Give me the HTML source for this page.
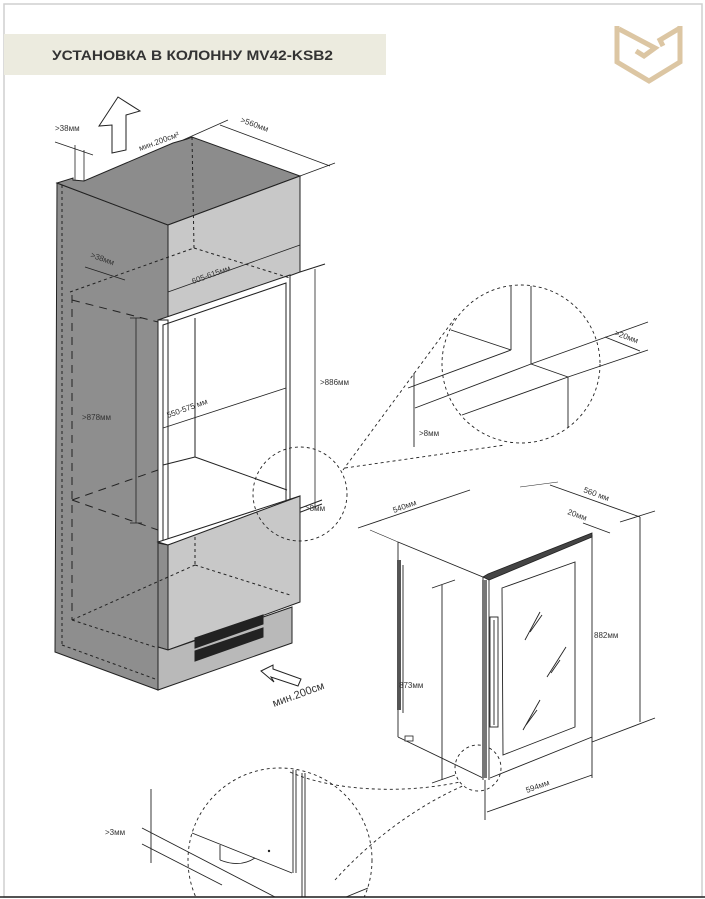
<!DOCTYPE html>
<html><head><meta charset="utf-8"><style>
html,body{margin:0;padding:0;background:#fff;width:705px;height:899px;overflow:hidden;}
svg{display:block;overflow:hidden;}
text{font-family:"Liberation Sans",sans-serif;fill:#333;}
</style></head><body>
<svg width="705" height="899" viewBox="0 0 705 899" xmlns="http://www.w3.org/2000/svg">
<defs><clipPath id="pg"><rect x="0" y="0" width="705" height="897"/></clipPath></defs>
<rect x="0" y="0" width="705" height="899" fill="#fff"/>
<rect x="4" y="4" width="698" height="893" fill="none" stroke="#cfcfcf" stroke-width="1.5"/>
<line x1="0" y1="897" x2="705" y2="897" stroke="#222" stroke-width="1.5"/>
<rect x="4" y="34" width="382" height="41" fill="#ecebdf"/>
<text x="52" y="60" font-size="14" font-weight="bold" fill="#222" textLength="281" lengthAdjust="spacingAndGlyphs">УСТАНОВКА В КОЛОННУ MV42-KSB2</text>
<g fill="none" stroke="#dcc6a3" stroke-width="5" stroke-linejoin="miter">
<polyline points="617,26 617,62 649,81 680,62 680,26"/>
<polyline points="619,29 655,48 644,56 636,51"/>
<polyline points="680,28 660,40 663,46"/>
</g>
<g clip-path="url(#pg)">
<g stroke="#222" stroke-width="1">
<polygon points="57,183 168,225 168,320 158,320 158,690 55,652" fill="#8e8e8e"/>
<polygon points="57,183 73,178 73,180 84,181 173,143 187,139 192,137 300,176 168,225" fill="#8c8c8c"/>
<polygon points="168,225 300,176 300,272 168,320" fill="#c8c8c8"/>
<polygon points="158,320 290,275 290,515 158,542" fill="#fff"/>
<polyline points="158,320 168,320 168,541" fill="none"/>
<polyline points="163,543 163,325 286,283 286,500" fill="none"/>
<line x1="290" y1="277" x2="290" y2="513"/>
<line x1="300" y1="272" x2="325" y2="264"/>
<line x1="195" y1="318" x2="195" y2="457"/>
<line x1="195" y1="457" x2="287" y2="490"/>
<line x1="163" y1="465" x2="195" y2="457"/>
<line x1="290" y1="512" x2="322" y2="500"/>
<line x1="290" y1="516" x2="322" y2="504"/>
<polygon points="158,542 300,496 300,500 168,545" fill="#fff"/>
<polygon points="168,545 300,496 300,602 168,650" fill="#c8c8c8"/>
<polygon points="158,543 168,545 168,650 158,647" fill="#8e8e8e"/>
<polygon points="158,647 168,650 292,607 292,643 158,690" fill="#b9b9b9"/>
<polygon points="195,638 263,615 263,624 195,648" fill="#222"/>
<polygon points="195,651 263,628 263,637 195,661" fill="#222"/>
</g>
<g stroke="#222" stroke-width="1" fill="none" stroke-dasharray="3,3">
<line x1="62" y1="185" x2="62" y2="645"/>
<line x1="62" y1="645" x2="158" y2="680"/>
<line x1="192" y1="137" x2="194" y2="248"/>
<line x1="70" y1="292" x2="194" y2="248"/>
<line x1="194" y1="248" x2="290" y2="278"/>
<line x1="72" y1="620" x2="195" y2="565"/>
<line x1="72" y1="620" x2="158" y2="648"/>
<line x1="195" y1="565" x2="290" y2="595"/>
<line x1="195" y1="537" x2="195" y2="565"/>
</g>
<g stroke="#222" stroke-width="1" fill="none" stroke-dasharray="8,6">
<line x1="72" y1="295" x2="72" y2="620"/>
<line x1="72" y1="300" x2="158" y2="322"/>
<line x1="72" y1="500" x2="158" y2="470"/>
<line x1="72" y1="500" x2="158" y2="530"/>
</g>
<g stroke="#222" stroke-width="0.8" fill="none">
<line x1="168" y1="292" x2="300" y2="245"/>
<line x1="220" y1="125" x2="330" y2="166"/>
<line x1="183" y1="140" x2="228" y2="120"/>
<line x1="300" y1="176" x2="335" y2="163"/>
<line x1="75" y1="145" x2="75" y2="180"/>
<line x1="84" y1="150" x2="84" y2="181"/>
<line x1="55" y1="142" x2="93" y2="155"/>
<line x1="85" y1="267" x2="125" y2="280"/>
<line x1="315" y1="269" x2="315" y2="510"/>
<line x1="136" y1="318" x2="136" y2="523"/>
<line x1="130" y1="318" x2="142" y2="318"/>
<line x1="130" y1="523" x2="142" y2="523"/>
<line x1="163" y1="428" x2="286" y2="388"/>
<polygon points="118,97 140,111 126,115 126,150 112,153 112,125 99,126" stroke-width="1"/>
<polygon points="261,671 273,665 273,669 301,679 298,686 271,677 274,682" stroke-width="1"/>
</g>
<g font-size="8">
<text x="55" y="131">&gt;38мм</text>
<text transform="translate(140,151) rotate(-20)">мин.200см²</text>
<text transform="translate(240,122) rotate(20)">&gt;560мм</text>
<text transform="translate(90,257) rotate(20)">&gt;38мм</text>
<text transform="translate(193,284) rotate(-20)">605-615мм</text>
<text transform="translate(168,418) rotate(-20)">550-575 мм</text>
<text x="320" y="385">&gt;886мм</text>
<text x="82" y="420">&gt;878мм</text>
<text x="305" y="511">&gt;8мм</text>
<text transform="translate(274,707) rotate(-20)" font-size="11">мин.200см</text>
</g>
<g stroke="#222" stroke-width="0.9" fill="none" stroke-dasharray="3,3">
<circle cx="300" cy="494" r="47"/>
<circle cx="521" cy="364" r="79"/>
<line x1="343" y1="470" x2="455" y2="318"/>
<line x1="345" y1="468" x2="505" y2="445"/>
<circle cx="478" cy="768" r="23"/>
<circle cx="280" cy="860" r="92"/>
<path d="M290,772 C330,790 400,795 460,782"/>
<path d="M335,880 C380,830 430,800 465,785"/>
</g>
<g stroke="#222" stroke-width="0.9" fill="none">
<line x1="511" y1="286" x2="511" y2="350"/>
<line x1="451" y1="330" x2="511" y2="350"/>
<line x1="531" y1="286" x2="531" y2="364"/>
<line x1="408" y1="388" x2="511" y2="350"/>
<line x1="415" y1="408" x2="531" y2="364"/>
<line x1="531" y1="364" x2="568" y2="377"/>
<line x1="462" y1="415" x2="568" y2="377"/>
<line x1="568" y1="377" x2="568" y2="428"/>
<line x1="531" y1="364" x2="648" y2="322"/>
<line x1="568" y1="377" x2="648" y2="350"/>
<line x1="605" y1="337" x2="640" y2="351"/>
<line x1="414" y1="373" x2="414" y2="447"/>
</g>
<g font-size="8">
<text transform="translate(614,335) rotate(20)">&gt;20мм</text>
<text x="419" y="436">&gt;8мм</text>
</g>
<g stroke="#222" stroke-width="0.9" fill="none">
<line x1="151" y1="789" x2="151" y2="863"/>
<line x1="142" y1="828" x2="275" y2="897"/>
<line x1="142" y1="844" x2="222" y2="885"/>
<line x1="192" y1="833" x2="292" y2="873"/>
<line x1="220" y1="845" x2="220" y2="860"/>
<path d="M220,860 Q240,868 255,858"/>
<line x1="293" y1="770" x2="293" y2="873"/>
<line x1="296" y1="770" x2="296" y2="873"/>
<line x1="302" y1="773" x2="302" y2="897"/>
<line x1="305" y1="773" x2="305" y2="897"/>
<line x1="346" y1="897" x2="368" y2="888"/>
</g>
<circle cx="269" cy="851" r="1.2" fill="#222"/>
<text x="105" y="835" font-size="8">&gt;3мм</text>
</g>
<!-- appliance -->
<g stroke="#222" stroke-width="0.9" fill="none">
<polyline points="398,542 483,577 592,535"/>
<line x1="398" y1="542" x2="398" y2="737"/>
<line x1="398" y1="737" x2="483" y2="778"/>
<line x1="592" y1="535" x2="592" y2="770"/>
<line x1="490" y1="778" x2="592" y2="737"/>
<line x1="483" y1="577" x2="483" y2="780"/>
<line x1="489" y1="575" x2="489" y2="780"/>
<polygon points="502,588 575,562 575,727 503,755"/>
<rect x="490" y="617" width="8" height="110"/>
<line x1="494" y1="620" x2="494" y2="725"/>
<line x1="403" y1="565" x2="403" y2="713"/>
<line x1="525" y1="640" x2="540" y2="612"/>
<line x1="530" y1="632" x2="542" y2="615"/>
<line x1="547" y1="677" x2="566" y2="647"/>
<line x1="551" y1="673" x2="560" y2="660"/>
<line x1="523" y1="730" x2="540" y2="700"/>
<line x1="526" y1="725" x2="537" y2="710"/>
<line x1="358" y1="528" x2="470" y2="490"/>
<line x1="370" y1="530" x2="398" y2="542" stroke-width="0.6"/>
<line x1="550" y1="485" x2="640" y2="517"/>
<line x1="520" y1="487" x2="558" y2="482" stroke-width="0.6"/>
<line x1="583" y1="523" x2="610" y2="533"/>
<line x1="640" y1="517" x2="640" y2="722"/>
<line x1="620" y1="522" x2="655" y2="511"/>
<line x1="592" y1="742" x2="655" y2="718"/>
<line x1="442" y1="585" x2="442" y2="780"/>
<line x1="432" y1="588" x2="455" y2="580"/>
<line x1="432" y1="783" x2="455" y2="775"/>
<line x1="487" y1="812" x2="592" y2="775"/>
<line x1="485" y1="780" x2="485" y2="820"/>
<line x1="592" y1="770" x2="592" y2="778"/>
</g>
<polygon points="483,577 488,574 592,533 592,537 489,580" fill="#444" stroke="#222" stroke-width="0.8"/>
<rect x="397" y="560" width="4" height="150" fill="#555"/>
<rect x="482" y="580" width="5" height="198" fill="#777"/>
<rect x="405" y="736" width="8" height="5" fill="#fff" stroke="#222" stroke-width="0.8"/>
<g font-size="8">
<text transform="translate(394,513) rotate(-20)">540мм</text>
<text transform="translate(583,492) rotate(20)">560 мм</text>
<text transform="translate(567,514) rotate(20)">20мм</text>
<text x="594" y="638">882мм</text>
<text x="399" y="688">873мм</text>
<text transform="translate(527,793) rotate(-20)">594мм</text>
</g>
</svg>
</body></html>
